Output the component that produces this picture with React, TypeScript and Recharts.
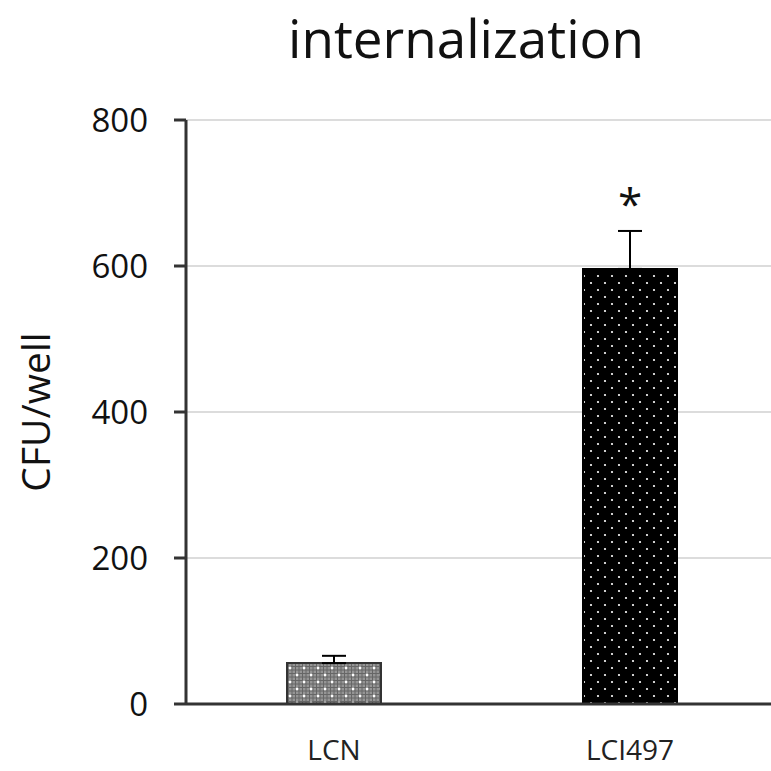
import React from 'react'
import { BarChart, Bar, XAxis, YAxis, CartesianGrid, ErrorBar, Cell, LabelList, Label } from 'recharts'

const categories = ['LCN', 'LCI497']
const means = [56, 596]
const errors = [10, 52]
const marks = ['', '*']
const yTicks = [0, 200, 400, 600, 800]

const data = categories.map((name, i) => ({ name, value: means[i], err: [0, errors[i]], mark: marks[i] }))

const FILLS = ['url(#grayDots)', 'url(#blackDots)']
const STROKES = ['#333', '#000']
const FONT = '"Open Sans", "Noto Sans", sans-serif'

export default function App() {
  return (
    <div style={{ position: 'absolute', left: 0, top: 0, width: 771, height: 771, background: '#fff', fontFamily: FONT }}>
      <div style={{ position: 'absolute', left: 161, top: 1, width: 610, textAlign: 'center', fontSize: 53, lineHeight: 'normal', color: '#111' }}>
        internalization
      </div>
      <BarChart width={771} height={771} data={data} margin={{ top: 120, right: 0, bottom: 37, left: 0 }}>
        <defs>
          <pattern id="blackDots" width="14" height="14" patternUnits="userSpaceOnUse">
            <rect width="14" height="14" fill="#000" />
            <circle cx="3" cy="3" r="1.1" fill="#fff" />
            <circle cx="10" cy="10" r="1.1" fill="#fff" />
          </pattern>
          <pattern id="grayDots" width="14" height="14" patternUnits="userSpaceOnUse">
            <rect width="14" height="14" fill="#959595" />
            <path d="M0 1.5H14M0 5H14M0 8.5H14M0 12H14M1.5 0V14M5 0V14M8.5 0V14M12 0V14" stroke="#666" strokeWidth="1" />
            <circle cx="3" cy="3" r="1.4" fill="#fff" />
            <circle cx="10" cy="10" r="1.4" fill="#fff" />
          </pattern>
        </defs>
        <CartesianGrid vertical={false} stroke="#dcdcdc" strokeWidth={2} />
        <XAxis
          dataKey="name"
          padding={{ left: 0, right: -7 }}
          axisLine={{ stroke: '#333', strokeWidth: 3 }}
          tickLine={false}
          tickMargin={30}
          tick={{ fontSize: 28, fill: '#222', fontFamily: FONT }}
        />
        <YAxis
          width={186}
          domain={[0, 800]}
          ticks={yTicks}
          axisLine={{ stroke: '#333', strokeWidth: 3 }}
          tickLine={{ stroke: '#333', strokeWidth: 3 }}
          tickSize={12}
          tickMargin={26}
          tick={{ fontSize: 33, fill: '#111', fontFamily: FONT }}
        >
          <Label value="CFU/well" angle={-90} position="insideLeft" offset={36} style={{ fontSize: 39, fill: '#111', fontFamily: FONT, textAnchor: 'middle' }} />
        </YAxis>
        <Bar dataKey="value" barSize={94} isAnimationActive={false}>
          {data.map((_, i) => (
            <Cell key={i} fill={FILLS[i]} stroke={STROKES[i]} strokeWidth={2} />
          ))}
          <ErrorBar dataKey="err" width={12} stroke="#000" strokeWidth={2} direction="y" />
          <LabelList dataKey="mark" position="top" offset={49} style={{ fontSize: 44, fill: '#111', fontFamily: FONT }} />
        </Bar>
      </BarChart>
    </div>
  )
}
